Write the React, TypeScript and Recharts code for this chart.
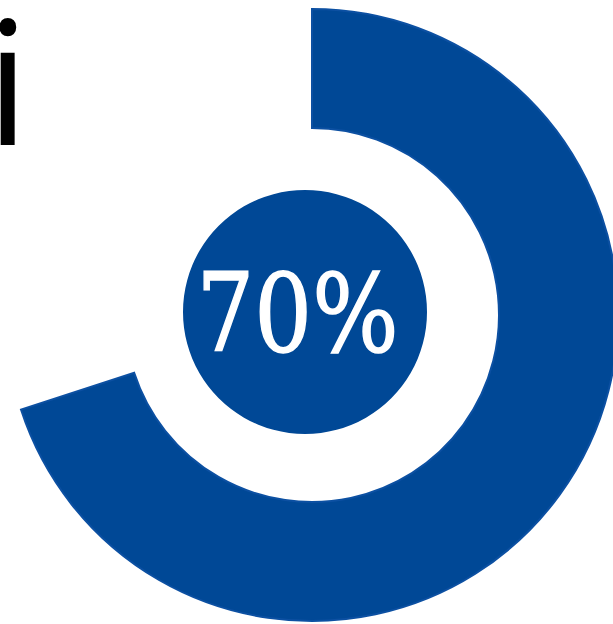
import { PieChart, Pie, Cell, Label } from "recharts";

// share shown by the ring, and what is left over
const progress = [
  { name: "done", value: 70 },
  { name: "rest", value: 30 },
];
const hub = [{ name: "hub", value: 1 }];
const centerLabel = "70%";
const titleTail = "i";

const BLUE = "#004896";
const EDGE = "#0c50a2";

export default function App() {
  return (
    <div style={{ position: "absolute", left: 0, top: 0, background: "#fff" }}>
      <PieChart width={613} height={624}>
        <text
          x={-14}
          y={145}
          fontFamily="'Open Sans', sans-serif"
          fontSize={172}
          fill="#000"
        >
          {titleTail}
        </text>
        <Pie
          data={progress}
          dataKey="value"
          cx={307}
          cy={310}
          innerRadius={187}
          outerRadius={306}
          startAngle={90}
          endAngle={-270}
          isAnimationActive={false}
        >
          {progress.map((d, i) => (
            <Cell
              key={d.name}
              fill={i === 0 ? BLUE : "none"}
              stroke={i === 0 ? EDGE : "none"}
              strokeWidth={2}
            />
          ))}
        </Pie>
        <Pie
          data={hub}
          dataKey="value"
          cx={300}
          cy={307}
          outerRadius={122}
          stroke="none"
          fill={BLUE}
          isAnimationActive={false}
        >
          <Label
            value={centerLabel}
            position="center"
            fill="#fff"
            stroke="#fff"
            strokeWidth={1.5}
            fontFamily="'DejaVu Serif', serif"
            fontSize={108}
            textLength={202}
            lengthAdjust="spacingAndGlyphs"
            dx={-9}
            dy={1}
          />
        </Pie>
      </PieChart>
    </div>
  );
}
